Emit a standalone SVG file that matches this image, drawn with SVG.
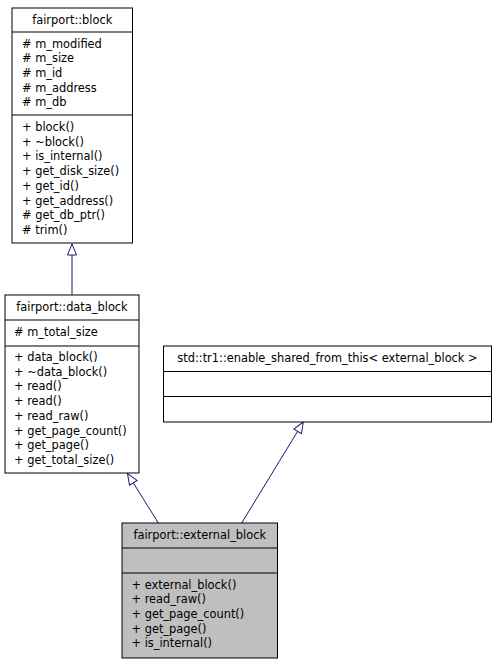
<svg xmlns="http://www.w3.org/2000/svg" width="497" height="664" viewBox="0 0 497 664">
<style>
.box{fill:#ffffff;stroke:#000000;stroke-width:1}
.cur{fill:#bfbfbf;stroke:#000000;stroke-width:1}
.sep{stroke:#000000;stroke-width:1}
text{font-family:"DejaVu Sans","Liberation Sans",sans-serif;font-size:11.4px;fill:#000000}
.t{text-anchor:middle}
.edge{stroke:#191970;stroke-width:1;fill:none}
</style>
<defs>
<marker id="inh" markerUnits="userSpaceOnUse" viewBox="-1 -6 14 12" refX="11" refY="0" markerWidth="14" markerHeight="12" orient="auto" overflow="visible">
<path d="M0,-4.5 L11,0 L0,4.5 Z" fill="#ffffff" stroke="#191970" stroke-width="1"/>
</marker>
</defs>
<g id="connectors">
<path class="edge" d="M72,295 L72,244" marker-end="url(#inh)"/>
<path class="edge" d="M158.3,523 L127.5,473.5" marker-end="url(#inh)"/>
<path class="edge" d="M241.7,523 L303.3,422" marker-end="url(#inh)"/>
</g>
<g id="block">
<rect class="box" x="12" y="8" width="120.5" height="235"/>
<line class="sep" x1="12" y1="32" x2="132.5" y2="32"/>
<line class="sep" x1="12" y1="115" x2="132.5" y2="115"/>
<text class="t" x="72.25" y="23.5">fairport::block</text>
<text x="22" y="47.5"># m_modified</text>
<text x="22" y="62.2"># m_size</text>
<text x="22" y="76.9"># m_id</text>
<text x="22" y="91.6"># m_address</text>
<text x="22" y="106.3"># m_db</text>
<text x="22" y="131">+ block()</text>
<text x="22" y="145.7">+ ~block()</text>
<text x="22" y="160.4">+ is_internal()</text>
<text x="22" y="175.1">+ get_disk_size()</text>
<text x="22" y="189.8">+ get_id()</text>
<text x="22" y="204.5">+ get_address()</text>
<text x="22" y="219.2"># get_db_ptr()</text>
<text x="22" y="233.9"># trim()</text>
</g>
<g id="data_block">
<rect class="box" x="5" y="295" width="134" height="178"/>
<line class="sep" x1="5" y1="320" x2="139" y2="320"/>
<line class="sep" x1="5" y1="346" x2="139" y2="346"/>
<text class="t" x="72" y="311">fairport::data_block</text>
<text x="14" y="335.5"># m_total_size</text>
<text x="14" y="361">+ data_block()</text>
<text x="14" y="375.7">+ ~data_block()</text>
<text x="14" y="390.4">+ read()</text>
<text x="14" y="405.1">+ read()</text>
<text x="14" y="419.8">+ read_raw()</text>
<text x="14" y="434.5">+ get_page_count()</text>
<text x="14" y="449.2">+ get_page()</text>
<text x="14" y="463.9">+ get_total_size()</text>
</g>
<g id="enable_shared_from_this">
<rect class="box" x="163.5" y="346" width="328" height="76"/>
<line class="sep" x1="163.5" y1="371.5" x2="491.5" y2="371.5"/>
<line class="sep" x1="163.5" y1="396.5" x2="491.5" y2="396.5"/>
<text class="t" x="327.5" y="361.5">std::tr1::enable_shared_from_this&lt; external_block &gt;</text>
</g>
<g id="external_block">
<rect class="cur" x="122" y="523" width="155.5" height="135"/>
<line class="sep" x1="122" y1="548" x2="277.5" y2="548"/>
<line class="sep" x1="122" y1="573" x2="277.5" y2="573"/>
<text class="t" x="199.75" y="538.5">fairport::external_block</text>
<text x="131.5" y="588.5">+ external_block()</text>
<text x="131.5" y="603.2">+ read_raw()</text>
<text x="131.5" y="617.9">+ get_page_count()</text>
<text x="131.5" y="632.6">+ get_page()</text>
<text x="131.5" y="647.3">+ is_internal()</text>
</g>
</svg>
